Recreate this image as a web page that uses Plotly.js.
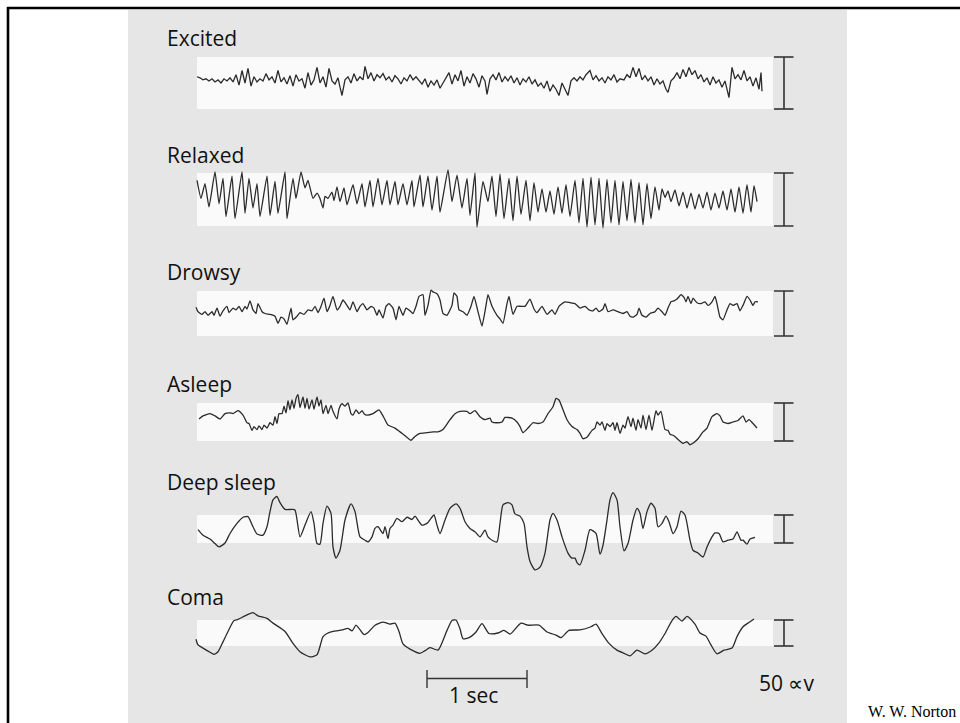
<!DOCTYPE html>
<html>
<head>
<meta charset="utf-8">
<script src="https://cdn.plot.ly/plotly-3.0.1.min.js"></script>
<style>
  html, body { margin: 0; padding: 0; background: #ffffff; }
  #chart { width: 960px; height: 723px; }
</style>
</head>
<body>
<div id="chart"></div>
<script>
// ---------------- DATA (time in s, potential in µV) ----------------
const stateNames = ["Excited", "Relaxed", "Drowsy", "Asleep", "Deep sleep", "Coma"];

const excitedT = [0.00,0.03,0.06,0.09,0.12,0.15,0.18,0.21,0.24,0.27,
  0.30,0.33,0.36,0.39,0.42,0.45,0.48,0.51,0.54,0.57,
  0.60,0.63,0.66,0.69,0.72,0.75,0.78,0.81,0.84,0.87,
  0.90,0.93,0.96,0.99,1.02,1.05,1.08,1.11,1.14,1.17,
  1.20,1.23,1.26,1.29,1.32,1.35,1.38,1.41,1.43,1.45,
  1.48,1.51,1.54,1.57,1.60,1.63,1.66,1.68,1.71,1.74,
  1.77,1.80,1.83,1.86,1.89,1.92,1.95,1.98,2.01,2.04,
  2.07,2.10,2.13,2.16,2.19,2.22,2.25,2.28,2.31,2.34,
  2.37,2.40,2.43,2.46,2.49,2.52,2.55,2.58,2.61,2.64,
  2.67,2.70,2.73,2.76,2.79,2.82,2.85,2.88,2.90,2.93,
  2.96,2.99,3.02,3.05,3.08,3.11,3.14,3.17,3.20,3.23,
  3.26,3.29,3.32,3.35,3.38,3.41,3.44,3.47,3.50,3.53,
  3.56,3.59,3.62,3.65,3.68,3.71,3.74,3.77,3.80,3.83,
  3.86,3.89,3.93,3.96,3.99,4.02,4.05,4.08,4.11,4.14,
  4.17,4.20,4.23,4.27,4.30,4.33,4.36,4.39,4.42,4.45,
  4.48,4.51,4.54,4.57,4.60,4.63,4.66,4.69,4.71,4.74,
  4.77,4.80,4.83,4.86,4.89,4.92,4.95,4.98,5.01,5.04,
  5.07,5.10,5.13,5.16,5.19,5.22,5.25,5.28,5.32,5.35,
  5.38,5.41,5.44,5.47,5.50,5.53,5.56,5.59,5.62,5.64,5.65];
const excitedV = [6,5,3,4,2,4,1,3,0,4,
  2,5,1,8,-2,12,0,14,-3,6,
  1,4,2,9,3,6,0,12,1,5,
  -1,7,-3,8,2,4,-5,10,-2,3,
  15,0,6,-4,14,2,-1,5,-4,-12,
  3,6,0,9,2,6,3,16,4,10,
  2,8,5,9,3,6,1,7,4,-1,
  5,2,8,3,6,2,-1,4,-4,2,
  -2,3,-5,0,5,10,-1,8,2,12,
  -3,6,0,9,4,-4,7,2,-11,4,
  8,3,10,1,6,2,7,0,5,-2,
  4,1,6,-1,3,-3,0,-5,2,-8,
  -2,-6,-12,0,-6,-12,2,5,2,6,
  3,8,12,3,7,2,5,0,6,3,
  8,1,4,3,8,5,15,6,14,3,
  7,2,6,-2,4,-1,2,-6,-9,2,
  5,10,4,13,6,15,8,12,4,8,
  1,5,-2,6,0,3,-4,2,-14,15,
  4,8,3,12,2,6,-3,5,-6,10,-8];

const relaxedT = [0.00,0.04,0.08,0.12,0.18,0.22,0.26,0.29,0.35,0.38,
  0.45,0.48,0.52,0.56,0.60,0.63,0.70,0.73,0.78,0.81,
  0.88,0.90,0.96,0.99,1.04,1.08,1.11,1.16,1.20,1.23,
  1.26,1.28,1.31,1.35,1.37,1.40,1.43,1.47,1.50,1.56,
  1.60,1.65,1.68,1.73,1.76,1.81,1.85,1.90,1.93,1.98,
  2.01,2.06,2.10,2.15,2.17,2.23,2.26,2.31,2.35,2.40,
  2.43,2.51,2.55,2.60,2.65,2.70,2.73,2.78,2.80,2.86,
  2.91,2.95,2.99,3.03,3.07,3.12,3.16,3.20,3.24,3.29,
  3.33,3.37,3.41,3.45,3.49,3.53,3.57,3.61,3.65,3.69,
  3.73,3.78,3.82,3.86,3.90,3.94,3.98,4.02,4.06,4.10,
  4.14,4.18,4.22,4.26,4.30,4.34,4.38,4.42,4.46,4.50,
  4.54,4.58,4.62,4.65,4.68,4.71,4.74,4.78,4.82,4.86,
  4.90,4.94,4.98,5.02,5.06,5.10,5.14,5.18,5.22,5.26,
  5.30,5.34,5.38,5.42,5.46,5.50,5.54,5.57,5.60];
const relaxedV = [18,1,15,-7,26,-4,20,-16,22,-18,
  26,-13,20,-8,15,-16,22,-15,17,-13,
  26,-18,20,1,26,11,18,1,6,1,
  -8,3,1,7,-1,12,-2,11,-5,14,
  -4,15,-7,18,-7,20,-5,18,-5,17,
  -5,15,-5,18,-7,23,-7,22,-10,22,
  -12,28,-2,23,-8,20,-15,25,-26,17,
  -2,22,-16,24,-18,20,-20,22,-14,18,
  -20,16,-12,10,-12,8,-14,12,-13,14,
  -16,18,-22,20,-26,21,-24,20,-27,19,
  -22,18,-24,17,-20,19,-22,16,-24,15,
  -18,12,-10,10,2,8,-2,9,-6,7,
  -8,6,-9,5,-8,7,-10,6,-8,8,
  -10,10,-12,12,-13,14,-12,13,-2];

const drowsyT = [-0.01,0.01,0.05,0.08,0.11,0.15,0.17,0.20,0.23,0.26,
  0.30,0.32,0.36,0.39,0.42,0.45,0.48,0.50,0.53,0.56,
  0.59,0.61,0.65,0.68,0.73,0.78,0.81,0.84,0.87,0.90,
  0.94,0.96,1.00,1.03,1.07,1.11,1.15,1.18,1.21,1.24,
  1.27,1.30,1.33,1.36,1.40,1.43,1.46,1.50,1.53,1.56,
  1.60,1.63,1.66,1.70,1.74,1.77,1.80,1.82,1.86,1.89,
  1.92,1.96,1.99,2.02,2.06,2.09,2.12,2.16,2.19,2.22,
  2.26,2.28,2.31,2.34,2.36,2.40,2.43,2.46,2.50,2.55,
  2.57,2.60,2.62,2.66,2.70,2.74,2.77,2.81,2.85,2.89,
  2.91,2.95,3.00,3.03,3.06,3.10,3.12,3.16,3.20,3.24,
  3.28,3.33,3.37,3.40,3.45,3.50,3.55,3.58,3.62,3.68,
  3.73,3.78,3.83,3.88,3.92,3.96,3.99,4.02,4.06,4.08,
  4.11,4.16,4.21,4.26,4.30,4.33,4.36,4.40,4.42,4.45,
  4.49,4.53,4.58,4.61,4.65,4.68,4.71,4.74,4.77,4.80,
  4.84,4.87,4.89,4.91,4.94,4.96,5.00,5.04,5.08,5.11,
  5.15,5.18,5.20,5.23,5.26,5.30,5.33,5.36,5.40,5.43,
  5.46,5.50,5.53,5.56,5.58,5.61];
const drowsyV = [7,2,-1,2,-2,2,-2,6,-3,3,
  8,1,6,4,8,2,8,5,14,4,
  0,11,2,0,-1,-3,-11,-4,-6,-12,
  6,-7,-3,1,-1,4,3,8,1,8,
  17,2,9,19,4,8,15,9,4,13,
  2,8,11,4,8,6,-2,4,-5,8,
  11,6,-7,8,-2,6,4,0,8,19,
  21,-2,9,26,24,22,15,0,-2,9,
  23,19,4,2,-2,8,19,2,-14,9,
  21,8,-2,-6,-11,11,19,-1,8,8,
  8,16,5,1,8,-1,4,-1,8,13,
  12,11,6,8,4,3,6,2,5,11,
  2,4,2,0,2,-3,-4,-1,6,-2,
  -4,0,2,6,2,-2,6,13,14,16,
  21,18,13,19,11,17,12,11,13,9,
  13,19,11,-4,-7,4,11,9,11,3,
  9,19,15,9,13,13];

const asleepT = [0.02,0.06,0.13,0.18,0.23,0.28,0.33,0.36,0.41,0.46,
  0.50,0.52,0.55,0.57,0.60,0.62,0.65,0.67,0.70,0.73,
  0.76,0.78,0.80,0.82,0.85,0.87,0.89,0.91,0.93,0.95,
  0.97,0.99,1.01,1.03,1.06,1.08,1.10,1.12,1.15,1.17,
  1.20,1.22,1.24,1.26,1.29,1.31,1.34,1.36,1.40,1.42,
  1.45,1.48,1.51,1.54,1.56,1.59,1.62,1.65,1.67,1.70,
  1.76,1.82,1.86,1.91,1.98,2.03,2.08,2.14,2.18,2.23,
  2.30,2.36,2.41,2.46,2.53,2.58,2.63,2.70,2.73,2.78,
  2.83,2.88,2.93,2.95,3.00,3.05,3.08,3.15,3.20,3.23,
  3.26,3.31,3.36,3.41,3.46,3.51,3.56,3.59,3.62,3.66,
  3.70,3.75,3.80,3.83,3.86,3.90,3.95,3.98,4.00,4.03,
  4.05,4.08,4.10,4.13,4.16,4.18,4.20,4.23,4.26,4.28,
  4.31,4.34,4.36,4.39,4.41,4.44,4.46,4.49,4.52,4.55,
  4.59,4.61,4.64,4.68,4.71,4.73,4.77,4.81,4.86,4.90,
  4.93,4.97,5.01,5.06,5.10,5.15,5.20,5.23,5.26,5.31,
  5.36,5.41,5.46,5.49,5.52,5.56,5.60];
const asleepV = [4,8,11,8,4,11,12,11,15,9,
  -1,-2,-11,-6,-10,-5,-10,-4,-8,-1,
  -4,7,-2,11,11,21,12,28,16,29,
  18,31,36,19,33,18,31,17,29,17,
  33,21,29,11,22,11,22,14,4,17,
  24,21,25,11,9,16,11,15,11,9,
  11,16,8,-4,-8,-13,-18,-24,-19,-15,
  -14,-13,-13,-10,3,11,14,14,11,15,
  7,3,5,0,-1,0,6,5,0,-6,
  -14,-8,-1,-2,0,11,20,31,29,16,
  3,-6,-10,-15,-22,-20,-11,-8,0,-4,
  0,-11,-2,-6,-1,-11,-1,-15,-4,-8,
  7,-6,5,-11,3,-8,9,-10,9,-11,
  15,9,14,-10,-11,-16,-18,-23,-28,-26,
  -30,-27,-22,-13,-8,7,11,8,0,-2,
  0,2,8,0,3,-2,-8];

const deepSleepT = [0.01,0.06,0.13,0.18,0.22,0.28,0.33,0.40,0.46,0.51,
  0.56,0.60,0.66,0.70,0.73,0.76,0.80,0.83,0.88,0.95,
  0.98,1.03,1.08,1.14,1.17,1.20,1.23,1.26,1.30,1.34,
  1.36,1.39,1.43,1.48,1.54,1.58,1.63,1.68,1.71,1.75,
  1.78,1.81,1.86,1.88,1.91,1.93,1.96,2.00,2.05,2.10,
  2.15,2.18,2.21,2.25,2.30,2.34,2.37,2.40,2.43,2.48,
  2.53,2.59,2.63,2.68,2.73,2.78,2.83,2.88,2.91,2.96,
  3.00,3.03,3.06,3.11,3.15,3.18,3.23,3.27,3.30,3.33,
  3.38,3.43,3.48,3.53,3.56,3.60,3.65,3.71,3.75,3.78,
  3.80,3.83,3.88,3.93,3.99,4.03,4.06,4.10,4.13,4.16,
  4.20,4.23,4.27,4.31,4.36,4.40,4.43,4.46,4.50,4.54,
  4.58,4.61,4.65,4.69,4.72,4.76,4.80,4.84,4.88,4.93,
  4.96,5.01,5.06,5.10,5.15,5.18,5.22,5.26,5.31,5.36,
  5.40,5.44,5.46,5.50,5.53,5.58];
const deepSleepV = [-1,-11,-18,-26,-32,-25,-8,10,21,22,
  4,-9,-11,4,31,52,58,47,35,35,
  34,-14,7,31,10,-26,-27,10,41,28,
  -32,-52,-38,16,45,31,-14,-20,-23,-14,
  1,4,-8,4,-17,1,7,19,13,21,
  17,23,16,7,10,19,25,7,-8,16,
  37,45,37,13,1,-5,-14,-2,-14,-21,
  -23,10,43,47,43,27,23,10,-32,-58,
  -73,-68,-43,16,28,16,-14,-43,-52,-52,
  -60,-64,-38,-1,-8,-45,-29,16,52,65,
  52,4,-39,-26,16,37,28,1,31,46,
  37,4,10,23,13,-8,4,32,25,-20,
  -38,-43,-50,-32,-14,-7,-8,-23,-20,-18,
  -5,-20,-20,-27,-18,-15];

const comaT = [-0.01,0.01,0.06,0.13,0.17,0.21,0.26,0.31,0.37,0.41,
  0.48,0.56,0.61,0.70,0.76,0.88,0.96,1.03,1.13,1.20,
  1.26,1.30,1.36,1.45,1.51,1.55,1.59,1.62,1.67,1.71,
  1.78,1.86,1.93,1.98,2.02,2.06,2.13,2.23,2.28,2.33,
  2.41,2.50,2.55,2.59,2.63,2.66,2.72,2.79,2.85,2.92,
  3.01,3.07,3.13,3.24,3.31,3.42,3.50,3.59,3.64,3.72,
  3.83,3.94,3.99,4.05,4.12,4.20,4.27,4.33,4.40,4.48,
  4.55,4.62,4.68,4.75,4.79,4.85,4.90,4.98,5.03,5.09,
  5.14,5.20,5.27,5.35,5.40,5.46,5.51,5.57];
const comaV = [-12,-23,-29,-37,-41,-36,-17,3,24,26,
  33,39,33,28,19,3,-20,-36,-46,-42,
  -7,-1,3,6,9,4,15,9,-3,1,
  15,21,17,19,3,-21,-31,-39,-34,-28,
  -33,5,24,25,8,-11,-9,2,18,-1,
  0,5,-2,19,15,15,2,-4,-9,5,
  6,12,17,-1,-20,-33,-39,-44,-33,-40,
  -33,-19,-1,24,32,23,32,17,0,-6,
  -23,-40,-33,-29,-7,12,19,27];

const scaleBarUV = 50;          // amplitude calibration bar (µV)
const timeBarSec = 1;           // time calibration bar (s)
const timeBarLabel = "1 sec";
const ampBarLabel = "50 \u221Dv";
const creditText = "W. W. Norton";

// ---------------- LAYOUT GEOMETRY (pixels) ----------------
const W = 960, H = 723;
const t0px = 197, pxPerSec = 100;          // time axis mapping
const bandPx = [[57,109],[173,226],[291,336],[403,441],[515,543],[620,646]];
const labelBaselinePx = [45,162,279,391,489,604];
const bandEndPx = 773, barXPx = 784, capHalfPx = 9.5;
const M = 70; // half-height of each subplot domain (px)

const seriesT = [excitedT, relaxedT, drowsyT, asleepT, deepSleepT, comaT];
const seriesV = [excitedV, relaxedV, drowsyV, asleepV, deepSleepV, comaV];
const lineShape = ['linear','spline','spline','spline','spline','spline'];
const lineSmooth = [0, 0.4, 0.4, 0.5, 0.6, 0.6];

const pxToT = p => (p - t0px) / pxPerSec;
const py = p => 1 - p / H;
const px = p => p / W;

const layout = {
  width: W, height: H,
  margin: {l:0, r:0, t:0, b:0, pad:0},
  paper_bgcolor: '#ffffff',
  plot_bgcolor: 'rgba(0,0,0,0)',
  showlegend: false,
  xaxis: {domain:[0,1], range:[pxToT(0), pxToT(W)], visible:false, fixedrange:true},
  shapes: [],
  annotations: []
};

// gray slide panel and borders
layout.shapes.push({type:'rect', xref:'paper', yref:'paper', x0:px(128), x1:px(847), y0:0, y1:py(10),
  fillcolor:'#e6e6e6', line:{width:0}, layer:'below'});
layout.shapes.push({type:'line', xref:'paper', yref:'paper', x0:px(7), x1:1, y0:py(8), y1:py(8),
  line:{color:'#000', width:2.6}, layer:'above'});
layout.shapes.push({type:'line', xref:'paper', yref:'paper', x0:px(8), x1:px(8), y0:py(7), y1:0,
  line:{color:'#000', width:2.6}, layer:'above'});

const traces = [];
const half = scaleBarUV / 2;
stateNames.forEach((name, i) => {
  const [top, bot] = bandPx[i];
  const c = (top + bot) / 2, h = (bot - top) / 2;
  const yname = i === 0 ? 'y' : 'y' + (i + 1);
  const akey = i === 0 ? 'yaxis' : 'yaxis' + (i + 1);
  const r = M / h * half;
  layout[akey] = {domain:[py(c + M), py(c - M)], range:[-r, r], visible:false, fixedrange:true, anchor:'x'};

  // white recording strip (±25 µV)
  layout.shapes.push({type:'rect', xref:'x', yref:yname, x0:0, x1:pxToT(bandEndPx), y0:-half, y1:half,
    fillcolor:'#fafafa', line:{width:0}, layer:'below'});
  // 50 µV calibration bar
  const xb = pxToT(barXPx), xc0 = pxToT(barXPx - capHalfPx - 0.5), xc1 = pxToT(barXPx + capHalfPx);
  const bl = {color:'#333', width:1.6};
  layout.shapes.push({type:'line', xref:'x', yref:yname, x0:xb, x1:xb, y0:-half, y1:half, line:bl});
  layout.shapes.push({type:'line', xref:'x', yref:yname, x0:xc0, x1:xc1, y0:half, y1:half, line:bl});
  layout.shapes.push({type:'line', xref:'x', yref:yname, x0:xc0, x1:xc1, y0:-half, y1:-half, line:bl});

  const ln = {color:'#2b2b2b', width:1.3, shape:lineShape[i]};
  if (lineShape[i] === 'spline') ln.smoothing = lineSmooth[i];
  traces.push({type:'scatter', mode:'lines', x:seriesT[i], y:seriesV[i], xaxis:'x', yaxis:yname,
    line:ln, hoverinfo:'skip', name:name});

  layout.annotations.push({xref:'paper', yref:'paper', x:px(165), y:py(labelBaselinePx[i] - 7),
    xanchor:'left', yanchor:'middle', showarrow:false, text:name,
    font:{family:'Open Sans, sans-serif', size:21, color:'#111'}});
});

// 1-second time bar
const tb0 = pxToT(427), tb1 = tb0 + timeBarSec, tbY = py(678.5);
const tl = {color:'#333', width:1.4};
layout.shapes.push({type:'line', xref:'x', yref:'paper', x0:tb0, x1:tb1, y0:tbY, y1:tbY, line:tl});
layout.shapes.push({type:'line', xref:'x', yref:'paper', x0:tb0, x1:tb0, y0:py(670), y1:py(688), line:tl});
layout.shapes.push({type:'line', xref:'x', yref:'paper', x0:tb1, x1:tb1, y0:py(670), y1:py(688), line:tl});
layout.annotations.push({xref:'x', yref:'paper', x:(tb0 + tb1) / 2 - 0.035, y:py(695), xanchor:'center', yanchor:'middle',
  showarrow:false, text:timeBarLabel, font:{family:'Open Sans, sans-serif', size:21, color:'#111'}});
layout.annotations.push({xref:'paper', yref:'paper', x:px(757), y:py(683), xanchor:'left', yanchor:'middle',
  showarrow:false, text:ampBarLabel, font:{family:'Open Sans, sans-serif', size:21, color:'#111'}});
layout.annotations.push({xref:'paper', yref:'paper', x:px(866), y:py(711), xanchor:'left', yanchor:'middle',
  showarrow:false, text:creditText, font:{family:'Liberation Serif, Times New Roman, serif', size:16, color:'#000'}});

Plotly.newPlot('chart', traces, layout, {staticPlot:true, displayModeBar:false});
</script>
</body>
</html>
